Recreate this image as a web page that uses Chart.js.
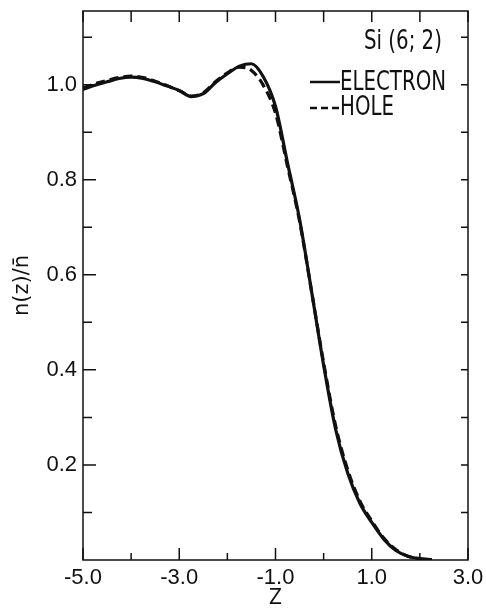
<!DOCTYPE html>
<html>
<head>
<meta charset="utf-8">
<script src="https://cdn.jsdelivr.net/npm/chart.js@4"></script>
<style>
  html, body { margin: 0; padding: 0; background: #fff; }
  #wrap { width: 486px; height: 609px; }
</style>
</head>
<body>
<div id="wrap"><canvas id="densityChart"></canvas></div>
<script>
// z positions (step 0.25) and n(z)/n-bar
const zPoints = [-5.0, -4.75, -4.5, -4.25, -4.0, -3.75, -3.5, -3.25, -3.0, -2.75,
                 -2.5, -2.25, -2.0, -1.75, -1.5, -1.25, -1.0, -0.75, -0.5, -0.25,
                 0.0, 0.25, 0.5, 0.75, 1.0, 1.25, 1.5, 1.75, 2.0, 2.25];
const electron = [0.990, 0.999, 1.006, 1.013, 1.016, 1.013, 1.006, 0.997, 0.988, 0.975,
                  0.981, 1.004, 1.023, 1.039, 1.044, 1.016, 0.954, 0.835, 0.717, 0.565,
                  0.410, 0.275, 0.183, 0.120, 0.079, 0.044, 0.020, 0.008, 0.003, 0.001];
const hole = [0.993, 1.002, 1.009, 1.015, 1.018, 1.015, 1.007, 0.998, 0.987, 0.976,
              0.983, 1.006, 1.025, 1.037, 1.030, 0.998, 0.940, 0.828, 0.713, 0.565,
              0.415, 0.282, 0.190, 0.125, 0.082, 0.046, 0.022, 0.008, 0.002];
const xTickValues = [-5, -3, -1, 1, 3];
const yTickValues = [0.2, 0.4, 0.6, 0.8, 1.0];
const legendTitle = 'Si (6; 2)';
const seriesNames = ['ELECTRON', 'HOLE'];

const tickFont = { family: "'Liberation Sans', Arial, sans-serif", size: 22 };
const legendFont = "22px 'DejaVu Sans Condensed', 'Liberation Sans Narrow', sans-serif";

// frame, inward tick marks and the in-plot legend
const frameAndLegend = {
    id: 'frameAndLegend',
    afterDraw(chart) {
        const ctx = chart.ctx;
        const a = chart.chartArea;
        const xs = chart.scales.x;
        const ys = chart.scales.y;
        ctx.save();
        ctx.strokeStyle = '#111';
        ctx.lineWidth = 1.5;
        ctx.strokeRect(a.left, a.top, a.right - a.left, a.bottom - a.top);

        ctx.beginPath();
        for (let v = -5; v <= 3; v++) {
            const px = xs.getPixelForValue(v);
            const len = xTickValues.includes(v) ? 12 : 7;
            ctx.moveTo(px, a.bottom);
            ctx.lineTo(px, a.bottom - len);
            ctx.moveTo(px, a.top);
            ctx.lineTo(px, a.top + 11);
        }
        for (let i = 1; i <= 11; i++) {
            const py = ys.getPixelForValue(i / 10);
            const major = i % 2 === 0;
            ctx.moveTo(a.left, py);
            ctx.lineTo(a.left + (major ? 13 : 9), py);
            ctx.moveTo(a.right, py);
            ctx.lineTo(a.right - 7, py);
        }
        ctx.stroke();

        // legend, tall narrow lettering like the original
        ctx.fillStyle = '#111';
        ctx.textBaseline = 'middle';
        ctx.textAlign = 'left';
        ctx.font = legendFont;
        const tallText = (txt, x, y) => {
            ctx.save();
            ctx.translate(x, y);
            ctx.scale(1, 1.2);
            ctx.fillText(txt, 0, 0);
            ctx.restore();
        };
        tallText(legendTitle, 364, 42);
        tallText(seriesNames[0], 340, 83);
        tallText(seriesNames[1], 340, 108);

        ctx.lineWidth = 2.5;
        ctx.beginPath();
        ctx.moveTo(310, 82);
        ctx.lineTo(340, 82);
        ctx.stroke();
        ctx.setLineDash([7, 4]);
        ctx.beginPath();
        ctx.moveTo(310, 108);
        ctx.lineTo(340, 108);
        ctx.stroke();
        ctx.restore();
    }
};

function toPoints(values) {
    return values.map((v, i) => ({ x: zPoints[i], y: v }));
}

document.addEventListener('DOMContentLoaded', function() {
    const ctx = document.getElementById('densityChart').getContext('2d');
    new Chart(ctx, {
        type: 'line',
        data: {
            datasets: [{
                label: seriesNames[0],
                data: toPoints(electron),
                borderColor: '#111',
                borderWidth: 3.2,
                pointRadius: 0,
                cubicInterpolationMode: 'monotone',
                fill: false
            }, {
                label: seriesNames[1],
                data: toPoints(hole),
                borderColor: '#111',
                borderWidth: 3.2,
                borderDash: [9, 5],
                pointRadius: 0,
                cubicInterpolationMode: 'monotone',
                fill: false
            }]
        },
        options: {
            responsive: true,
            maintainAspectRatio: false,
            animation: false,
            devicePixelRatio: 1,
            layout: { padding: { top: 11, right: 18, left: 0, bottom: 0 } },
            plugins: {
                legend: { display: false },
                tooltip: { enabled: false }
            },
            scales: {
                x: {
                    type: 'linear',
                    min: -5,
                    max: 3,
                    afterBuildTicks: scale => { scale.ticks = xTickValues.map(v => ({ value: v })); },
                    afterFit: scale => {
                        scale.height = 49;
                        scale.paddingLeft = 0;
                        scale.paddingRight = 0;
                    },
                    grid: { display: false, drawTicks: false },
                    border: { display: false },
                    ticks: {
                        color: '#111',
                        font: tickFont,
                        padding: 5,
                        maxRotation: 0,
                        callback: v => v.toFixed(1)
                    },
                    title: {
                        display: true,
                        text: 'Z',
                        color: '#111',
                        font: { family: "'DejaVu Sans Condensed', sans-serif", size: 21, lineHeight: 1 },
                        padding: { top: 0, bottom: 0 }
                    }
                },
                y: {
                    type: 'linear',
                    min: 0,
                    max: 1.155,
                    afterBuildTicks: scale => { scale.ticks = yTickValues.map(v => ({ value: v })); },
                    afterFit: scale => {
                        scale.width = 83;
                        scale.paddingTop = 0;
                        scale.paddingBottom = 0;
                    },
                    grid: { display: false, drawTicks: false },
                    border: { display: false },
                    ticks: {
                        color: '#111',
                        font: tickFont,
                        padding: 6,
                        callback: v => v.toFixed(1)
                    },
                    title: {
                        display: true,
                        text: 'n(z)/n\u0304',
                        color: '#111',
                        font: { family: "'DejaVu Sans', sans-serif", size: 21 },
                        padding: { top: 10, bottom: 0 }
                    }
                }
            }
        },
        plugins: [frameAndLegend]
    });
});
</script>
</body>
</html>
